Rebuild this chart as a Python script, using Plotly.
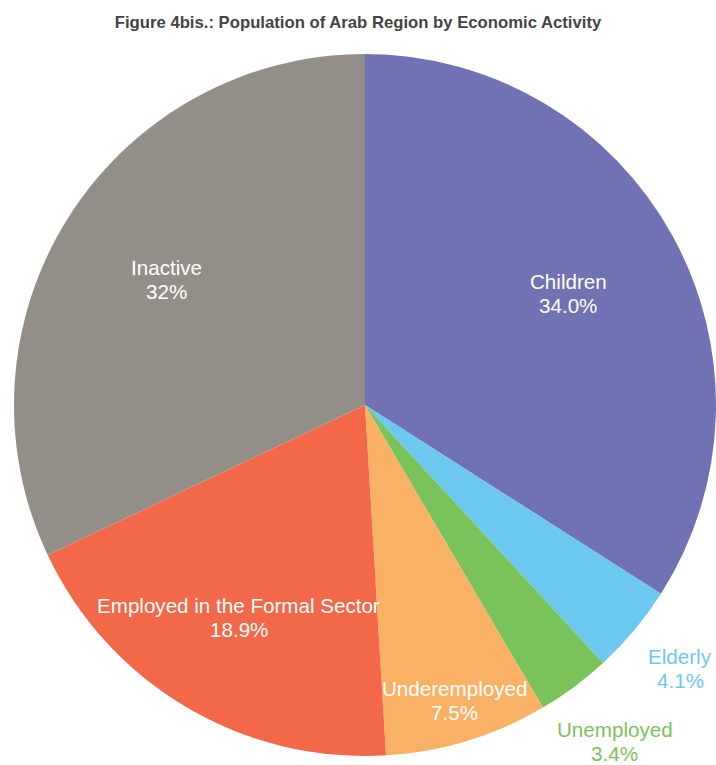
import math
import plotly.graph_objects as go

categories = ["Children", "Elderly", "Unemployed", "Underemployed",
              "Employed in the Formal Sector", "Inactive"]
values = [34.0, 4.1, 3.4, 7.5, 18.9, 32.0]
value_labels = ["34.0%", "4.1%", "3.4%", "7.5%", "18.9%", "32%"]
colors = ["#7172B4", "#6CC8EF", "#7AC25A", "#F9B165", "#F26849", "#938F88"]
text_colors = ["#FFFFFF", "#6CC8EF", "#7AC25A", "#FFFFFF", "#FFFFFF", "#FFFFFF"]
# radial placement of each label, as a fraction of the pie radius
label_radius = [0.66, 1.17, 1.195, 0.88, 0.705, 0.67]

W, H = 716, 765
# pie geometry in figure pixels
CX, CY, R = 365, 405, 351
dom_x = [(CX - R) / W, min(1.0, (CX + R) / W)]
dom_y = [(H - CY - R) / H, (H - CY + R) / H]
LINE_GAP = 24  # px between the two label lines

FONT = "Liberation Sans, Arial, Helvetica, sans-serif"

fig = go.Figure(go.Pie(
    labels=categories,
    values=values,
    customdata=value_labels,
    textinfo="none",
    hovertemplate="%{label}<br>%{customdata}<extra></extra>",
    sort=False,
    direction="clockwise",
    rotation=0,
    marker=dict(colors=colors, line=dict(width=0)),
    showlegend=False,
    domain=dict(x=dom_x, y=dom_y),
))

# labels placed on each slice's bisector, angles derived from the data
total = sum(values)
cum = 0.0
for cat, val, lab, col, rf in zip(categories, values, value_labels, text_colors, label_radius):
    mid = (cum + val / 2) / total * 2 * math.pi
    cum += val
    px = CX + rf * R * math.sin(mid)
    py = CY - rf * R * math.cos(mid)
    for txt, shift in ((cat, LINE_GAP / 2), (lab, -LINE_GAP / 2)):
        fig.add_annotation(
            x=px / W, y=1 - py / H, xref="paper", yref="paper",
            text=txt, showarrow=False, yshift=shift,
            xanchor="center", yanchor="middle", align="center",
            font=dict(size=20.6, color=col, family=FONT),
        )

fig.update_layout(
    width=W, height=H,
    margin=dict(l=0, r=0, t=0, b=0),
    paper_bgcolor="white",
    title=dict(text="<b>Figure 4bis.: Population of Arab Region by Economic Activity</b>",
               x=0.5, xanchor="center", y=1 - 22 / H, yanchor="middle",
               font=dict(size=16.7, color="#444444", family=FONT)),
)

fig.write_html(
    "out.html",
    config={"displayModeBar": False},
    post_script="document.body.style.margin='0';document.body.style.overflow='hidden';",
)
